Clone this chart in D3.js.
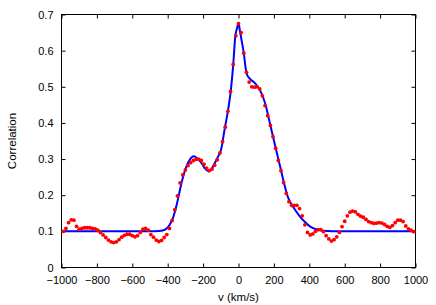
<!DOCTYPE html>
<html>
<head>
<meta charset="utf-8">
<script src="https://cdn.jsdelivr.net/npm/d3@7"></script>
<style>
  body { margin: 0; background: #fff; }
  text { font-family: "Liberation Sans", Arial, sans-serif; fill: #000; }
</style>
</head>
<body>
<div id="chart"></div>
<script>
// measured cross-correlation, one value per velocity bin (km/s)
const velocity = [
  -990, -975, -960, -945, -930, -915, -900, -885, -870, -855, -840, -825, -810, -795, -780, -765, -750,
  -735, -720, -705, -690, -675, -660, -645, -630, -615, -600, -585, -570, -555, -540, -525, -510, -495,
  -480, -465, -450, -435, -420, -405, -390, -375, -360, -345, -330, -315, -300, -285, -270, -255, -240,
  -225, -210, -195, -180, -165, -150, -135, -120, -105, -90, -75, -60, -45, -30, -15, 0,
  15, 30, 45, 60, 75, 90, 105, 120, 135, 150, 165, 180, 195, 210, 225, 240, 255, 270, 285, 300,
  315, 330, 345, 360, 375, 390, 405, 420, 435, 450, 465, 480, 495, 510, 525, 540, 555, 570, 585,
  600, 615, 630, 645, 660, 675, 690, 705, 720, 735, 750, 765, 780, 795, 810, 825, 840, 855, 870,
  885, 900, 915, 930, 945, 960, 975, 990
];
const correlation = [
  0.100, 0.108, 0.124, 0.132, 0.131, 0.114, 0.106, 0.108, 0.110, 0.110, 0.110, 0.108, 0.107, 0.103, 0.097, 0.090, 0.083,
  0.076, 0.071, 0.069, 0.071, 0.077, 0.084, 0.089, 0.092, 0.092, 0.088, 0.085, 0.088, 0.097, 0.106, 0.108, 0.103, 0.091,
  0.084, 0.076, 0.072, 0.075, 0.083, 0.091, 0.108, 0.130, 0.160, 0.198, 0.234, 0.256, 0.270, 0.282, 0.290, 0.296, 0.299,
  0.300, 0.296, 0.286, 0.275, 0.268, 0.272, 0.283, 0.298, 0.317, 0.348, 0.388, 0.432, 0.487, 0.562, 0.641, 0.675,
  0.650, 0.593, 0.540, 0.513, 0.500, 0.499, 0.500, 0.494, 0.475, 0.448, 0.420, 0.393, 0.362, 0.330, 0.296, 0.268, 0.235, 0.205, 0.182, 0.172,
  0.172, 0.172, 0.163, 0.143, 0.118, 0.097, 0.090, 0.093, 0.100, 0.105, 0.105, 0.099, 0.088, 0.079, 0.073, 0.077, 0.085, 0.097, 0.113,
  0.128, 0.143, 0.153, 0.156, 0.154, 0.147, 0.142, 0.139, 0.133, 0.127, 0.124, 0.122, 0.123, 0.124, 0.123, 0.119, 0.114, 0.111, 0.116,
  0.124, 0.131, 0.131, 0.127, 0.115, 0.107, 0.103, 0.099
];

// fitted model curve
const fitVelocity = [
  -1000, -500, -450, -425, -406, -387, -368, -350, -331, -312, -293, -274, -255, -240, -225, -208, -190,
  -170, -152, -133, -114, -99, -76, -61, -45, -30, -18, -8, 0, 8, 18, 30, 40, 48, 65, 93, 122, 150,
  178, 207, 235, 254, 282, 311, 344, 377, 405, 443, 480, 575, 1000
];
const fitValue = [
  0.100, 0.100, 0.101, 0.103, 0.108, 0.120, 0.140, 0.172, 0.214, 0.253, 0.281, 0.299, 0.308, 0.305, 0.298, 0.288, 0.274,
  0.266, 0.272, 0.290, 0.308, 0.325, 0.389, 0.429, 0.483, 0.560, 0.640, 0.662, 0.677, 0.655, 0.627, 0.593, 0.553, 0.534, 0.522, 0.510, 0.490, 0.455,
  0.398, 0.337, 0.280, 0.240, 0.191, 0.166, 0.143, 0.125, 0.113, 0.105, 0.102, 0.100, 0.100
];

const xTicks = [-1000, -800, -600, -400, -200, 0, 200, 400, 600, 800, 1000];
const yTicks = [0, 0.1, 0.2, 0.3, 0.4, 0.5, 0.6, 0.7];

const W = 436, H = 305;
const margin = { top: 14.5, right: 20.5, bottom: 37.5, left: 61.5 };
const width = W - margin.left - margin.right;
const height = H - margin.top - margin.bottom;

const svg = d3.select('#chart')
  .append('svg')
    .attr('width', W)
    .attr('height', H);

const g = svg.append('g')
  .attr('transform', `translate(${margin.left},${margin.top})`);

const x = d3.scaleLinear().domain([-1000, 1000]).range([0, width]);
const y = d3.scaleLinear().domain([0, 0.7]).range([height, 0]);

const fmtY = d => d === 0 ? '0' : d3.format('.1f')(d);

// axes with inward ticks, mirrored on top and right
g.append('g')
  .attr('class', 'axis')
  .attr('transform', `translate(0,${height})`)
  .call(d3.axisBottom(x).tickValues(xTicks).tickFormat(d3.format('d'))
    .tickSizeInner(-4).tickSizeOuter(0).tickPadding(9));

g.append('g')
  .attr('class', 'axis')
  .call(d3.axisLeft(y).tickValues(yTicks).tickFormat(fmtY).tickSizeInner(-4).tickSizeOuter(0).tickPadding(8));

g.append('g')
  .attr('class', 'axis')
  .call(d3.axisTop(x).tickValues(xTicks).tickFormat('').tickSizeInner(-4).tickSizeOuter(0));

g.append('g')
  .attr('class', 'axis')
  .attr('transform', `translate(${width},0)`)
  .call(d3.axisRight(y).tickValues(yTicks).tickFormat('').tickSizeInner(-4).tickSizeOuter(0));

g.selectAll('.axis .domain').remove();
g.selectAll('.axis line').attr('stroke', '#000');
g.selectAll('.axis text')
  .style('font-size', '11px')
  .style('font-family', '"Liberation Sans", Arial, sans-serif')
  .attr('fill', '#000');

g.append('rect')
  .attr('width', width)
  .attr('height', height)
  .attr('fill', 'none')
  .attr('stroke', '#000');

// fit line
const fit = fitVelocity.map((v, i) => [v, fitValue[i]]);
g.append('path')
  .datum(fit)
  .attr('fill', 'none')
  .attr('stroke', '#0000ff')
  .attr('stroke-width', 2)
  .attr('stroke-linejoin', 'round')
  .attr('d', d3.line()
    .x(d => x(d[0]))
    .y(d => y(d[1]))
    .curve(d3.curveMonotoneX));

// data points
g.append('g')
  .attr('fill', '#ff0000')
  .selectAll('circle')
  .data(velocity.map((v, i) => [v, correlation[i]]))
  .enter()
    .append('circle')
      .attr('cx', d => x(d[0]))
      .attr('cy', d => y(d[1]))
      .attr('r', 1.9);

// axis titles
svg.append('text')
  .attr('x', margin.left + x(0))
  .attr('y', 300.5)
  .attr('text-anchor', 'middle')
  .style('font-size', '11.5px')
  .text('v (km/s)');

svg.append('text')
  .attr('transform', `translate(16,${margin.top + height / 2}) rotate(-90)`)
  .attr('text-anchor', 'middle')
  .style('font-size', '11.5px')
  .text('Correlation');
</script>
</body>
</html>
